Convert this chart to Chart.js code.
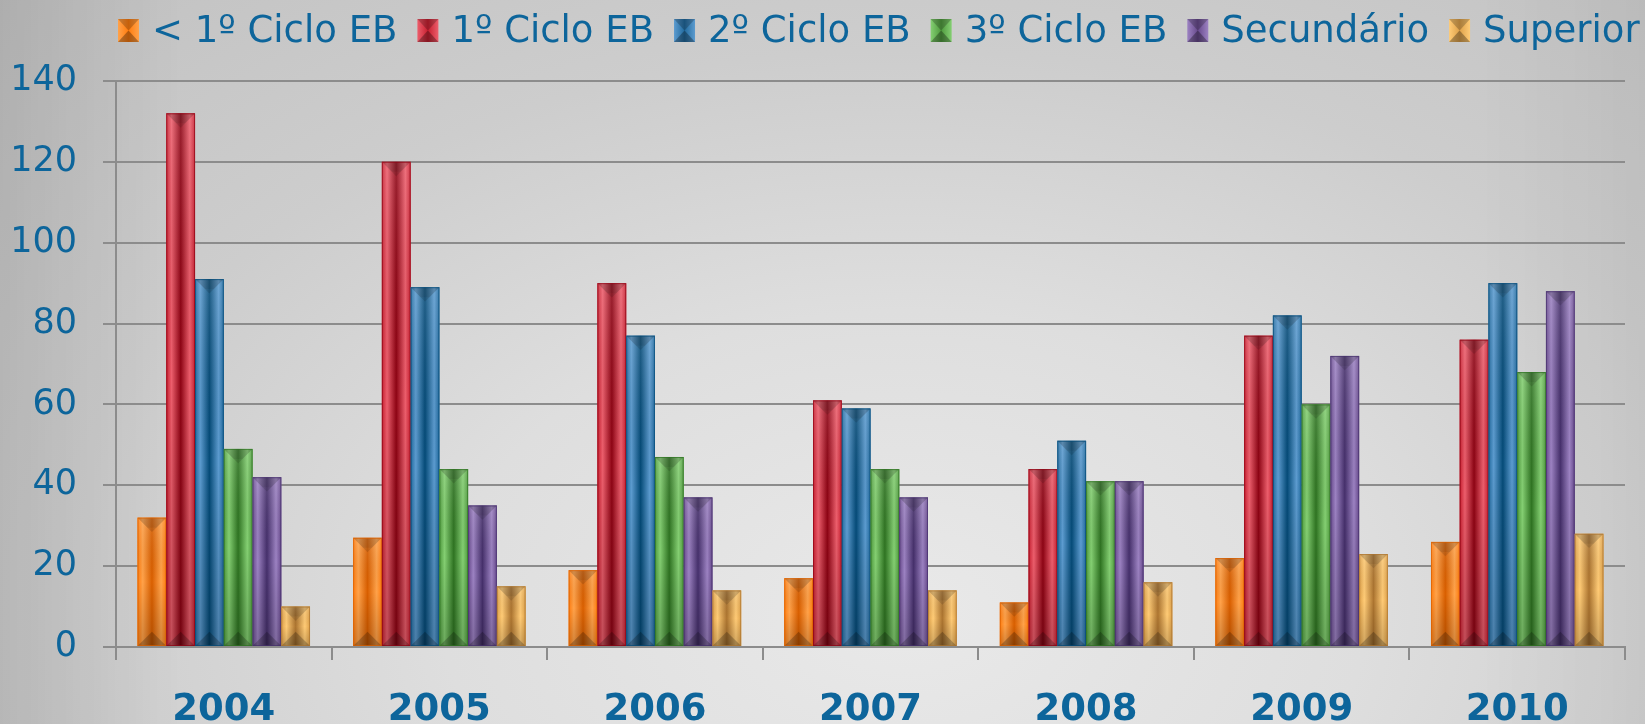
<!DOCTYPE html>
<html>
<head>
<meta charset="utf-8">
<script src="https://cdn.jsdelivr.net/npm/chart.js@4.4.0/dist/chart.umd.min.js"></script>
<style>
  html, body { margin: 0; padding: 0; overflow: hidden; width: 1645px; height: 724px; }
  body {
    background:
      linear-gradient(to right, rgba(0,0,0,0.10) 0%, rgba(0,0,0,0) 11%, rgba(0,0,0,0) 90%, rgba(0,0,0,0.05) 100%),
      radial-gradient(ellipse 80% 120% at 55% 85%, #e9e9e9 0%, #dedede 35%, #cdcdcd 65%, #c1c1c1 100%);
  }
  #wrap { position: absolute; left: 0; top: 0; width: 1645px; height: 760px; }
</style>
</head>
<body>
<div id="wrap"><canvas id="c" width="1645" height="760"></canvas></div>
<script>
const categories = ['2004', '2005', '2006', '2007', '2008', '2009', '2010'];
const seriesNames = ['< 1º Ciclo EB', '1º Ciclo EB', '2º Ciclo EB', '3º Ciclo EB', 'Secundário', 'Superior'];
const belowFirstCycle = [32, 27, 19, 17, 11, 22, 26];
const firstCycle      = [132, 120, 90, 61, 44, 77, 76];
const secondCycle     = [91, 89, 77, 59, 51, 82, 90];
const thirdCycle      = [49, 44, 47, 44, 41, 60, 68];
const secondary       = [42, 35, 37, 37, 41, 72, 88];
const higher          = [10, 15, 14, 14, 16, 23, 28];
const yTicks = [0, 20, 40, 60, 80, 100, 120, 140];

const midColors   = ['#ff7c0e', '#c61f30', '#216a9e', '#4f9a3e', '#67498c', '#dea14a'];
const lightColors = ['#ffa24a', '#ec5e6c', '#5c9bcf', '#84cf72', '#9c82c2', '#ffcb76'];
const darkColors  = ['#d95f00', '#8e0414', '#054b78', '#2f7422', '#46306c', '#ad7530'];
const textColor = '#0d659b';
const gridColor = '#8c8c8c';

const seriesValues = [belowFirstCycle, firstCycle, secondCycle, thirdCycle, secondary, higher];

const datasets = seriesNames.map((name, i) => ({
  label: name,
  data: seriesValues[i],
  backgroundColor: midColors[i],
  borderColor: darkColors[i],
  borderWidth: 0,
  categoryPercentage: 0.8,
  barPercentage: 1.0
}));

const bevelPlugin = {
  id: 'bevel',
  afterDatasetsDraw(chart) {
    const ctx = chart.ctx;
    chart.data.datasets.forEach((ds, di) => {
      const meta = chart.getDatasetMeta(di);
      meta.data.forEach(el => {
        const p = el.getProps(['x', 'y', 'base', 'width'], true);
        const l = p.x - p.width / 2, r = p.x + p.width / 2;
        const t = Math.min(p.y, p.base), b = Math.max(p.y, p.base);
        const w = r - l, h = b - t;
        if (h <= 0) return;
        ctx.save();
        const g = ctx.createLinearGradient(l, 0, r, 0);
        g.addColorStop(0, midColors[di]);
        g.addColorStop(0.18, lightColors[di]);
        g.addColorStop(0.5, darkColors[di]);
        g.addColorStop(0.82, lightColors[di]);
        g.addColorStop(1, midColors[di]);
        ctx.fillStyle = g;
        ctx.fillRect(l, t, w, h);
        const gv = ctx.createLinearGradient(0, t, 0, b);
        gv.addColorStop(0, 'rgba(255,255,255,0.12)');
        gv.addColorStop(0.5, 'rgba(0,0,0,0)');
        gv.addColorStop(1, 'rgba(0,0,0,0.18)');
        ctx.fillStyle = gv;
        ctx.fillRect(l, t, w, h);
        const bt = Math.min(w * 0.35, 10, h / 2);
        ctx.fillStyle = 'rgba(0,0,0,0.18)';
        ctx.beginPath();
        ctx.moveTo(l, t); ctx.lineTo(r, t); ctx.lineTo(r - bt, t + bt); ctx.lineTo(l + bt, t + bt); ctx.closePath();
        ctx.fill();
        ctx.fillStyle = 'rgba(0,0,0,0.12)';
        ctx.beginPath();
        ctx.moveTo(l + bt, t + bt); ctx.lineTo(r - bt, t + bt); ctx.lineTo(p.x, t + bt + Math.min(w * 0.15, h / 3)); ctx.closePath();
        ctx.fill();
        const bb = Math.min(w * 0.5, h / 2);
        ctx.fillStyle = 'rgba(0,0,0,0.22)';
        ctx.beginPath();
        ctx.moveTo(l, b); ctx.lineTo(r, b); ctx.lineTo(p.x, b - bb); ctx.closePath();
        ctx.fill();
        ctx.strokeStyle = darkColors[di];
        ctx.globalAlpha = 0.7;
        ctx.lineWidth = 1;
        ctx.strokeRect(l + 0.5, t + 0.5, w - 1, h - 1);
        ctx.restore();
      });
    });
  }
};

const legendPlugin = {
  id: 'customLegend',
  afterDraw(chart) {
    const ctx = chart.ctx;
    ctx.save();
    ctx.font = '37px "DejaVu Sans"';
    ctx.textBaseline = 'middle';
    ctx.textAlign = 'left';
    let x = 118;
    const by = 19, bw = 21, bh = 23;
    chart.data.datasets.forEach((ds, i) => {
      const g = ctx.createLinearGradient(x, 0, x + bw, 0);
      g.addColorStop(0, lightColors[i]);
      g.addColorStop(0.5, midColors[i]);
      g.addColorStop(1, lightColors[i]);
      ctx.fillStyle = g;
      ctx.fillRect(x, by, bw, bh);
      ctx.fillStyle = 'rgba(0,0,0,0.22)';
      ctx.beginPath();
      ctx.moveTo(x, by); ctx.lineTo(x + bw, by); ctx.lineTo(x + bw / 2, by + bh / 2); ctx.closePath(); ctx.fill();
      ctx.fillStyle = 'rgba(0,0,0,0.3)';
      ctx.beginPath();
      ctx.moveTo(x, by + bh); ctx.lineTo(x + bw, by + bh); ctx.lineTo(x + bw / 2, by + bh / 2); ctx.closePath(); ctx.fill();
      ctx.fillStyle = textColor;
      ctx.fillText(ds.label, x + 34, 32);
      x += 34 + ctx.measureText(ds.label).width + 20;
    });
    ctx.restore();
  }
};

new Chart(document.getElementById('c'), {
  type: 'bar',
  data: { labels: categories, datasets },
  options: {
    responsive: false,
    devicePixelRatio: 1,
    animation: false,
    layout: { padding: { top: 81, right: 20, left: 0, bottom: 0 } },
    plugins: { legend: { display: false }, tooltip: { enabled: false } },
    scales: {
      x: {
        grid: { offset: true, drawOnChartArea: false, tickLength: 13, color: gridColor, lineWidth: 2 },
        border: { color: gridColor, width: 2 },
        ticks: { color: textColor, font: { family: 'DejaVu Sans', size: 37, weight: 'bold' }, padding: 28, maxRotation: 0, autoSkip: false },
        afterFit: s => { s.height = 113; }
      },
      y: {
        min: 0, max: 140,
        afterBuildTicks: s => { s.ticks = yTicks.map(v => ({ value: v })); },
        ticks: { color: textColor, font: { family: 'DejaVu Sans', size: 35 }, padding: 26 },
        grid: { color: gridColor, lineWidth: 2, tickLength: 13 },
        border: { color: gridColor, width: 2 },
        afterFit: s => { s.width = 116; }
      }
    }
  },
  plugins: [bevelPlugin, legendPlugin]
});
</script>
</body>
</html>
